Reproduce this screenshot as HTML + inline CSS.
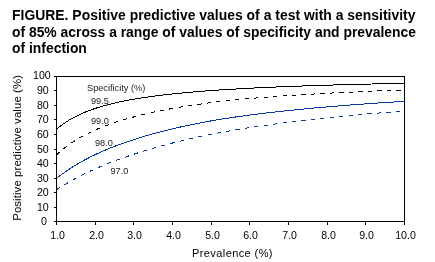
<!DOCTYPE html>
<html><head><meta charset="utf-8"><style>
html,body{margin:0;padding:0;background:#fff;width:435px;height:262px;overflow:hidden}
.t{position:absolute;left:12.4px;font:bold 13.9px/16.5px "Liberation Sans",sans-serif;color:#000;white-space:nowrap;will-change:transform}
svg{position:absolute;left:0;top:0;will-change:transform}
svg text{font-family:"Liberation Sans",sans-serif}
</style></head><body>
<div class="t" style="top:7.2px;letter-spacing:0.02px">FIGURE. Positive predictive values of a test with a sensitivity</div><div class="t" style="top:23.6px;letter-spacing:-0.01px">of 85% across a range of values of specificity and prevalence</div><div class="t" style="top:40px">of infection</div>
<svg width="435" height="262" viewBox="0 0 435 262">
<g fill="none" stroke="#000" stroke-width="1" shape-rendering="crispEdges">
<rect x="56.5" y="76.5" width="348" height="145"/>
<path d="M54 221.5H56M54 207.5H56M54 192.5H56M54 178.5H56M54 163.5H56M54 149.5H56M54 134.5H56M54 119.5H56M54 105.5H56M54 90.5H56M54 76.5H56M56.5 222V225M95.5 222V225M133.5 222V225M172.5 222V225M211.5 222V225M249.5 222V225M288.5 222V225M327.5 222V225M365.5 222V225M404.5 222V225"/>
</g>
<g fill="#000" font-size="10.6"><text x="46.8" y="225.2" text-anchor="end">0</text><text x="48.7" y="211.2" text-anchor="end">10</text><text x="48.7" y="196.2" text-anchor="end">20</text><text x="48.7" y="182.2" text-anchor="end">30</text><text x="48.7" y="167.2" text-anchor="end">40</text><text x="48.7" y="153.2" text-anchor="end">50</text><text x="48.7" y="138.2" text-anchor="end">60</text><text x="48.7" y="123.2" text-anchor="end">70</text><text x="48.7" y="109.2" text-anchor="end">80</text><text x="48.7" y="94.2" text-anchor="end">90</text><text x="50.7" y="78.8" text-anchor="end">100</text><text x="57.5" y="238.5" text-anchor="middle">1.0</text><text x="96.5" y="238.5" text-anchor="middle">2.0</text><text x="134.5" y="238.5" text-anchor="middle">3.0</text><text x="173.5" y="238.5" text-anchor="middle">4.0</text><text x="212.5" y="238.5" text-anchor="middle">5.0</text><text x="250.5" y="238.5" text-anchor="middle">6.0</text><text x="289.5" y="238.5" text-anchor="middle">7.0</text><text x="328.5" y="238.5" text-anchor="middle">8.0</text><text x="366.5" y="238.5" text-anchor="middle">9.0</text><text x="405.5" y="238.5" text-anchor="middle">10.0</text></g>
<g fill="none" stroke-width="1" shape-rendering="crispEdges">
<path d="M56.50 129.36L57.47 128.53L58.43 127.71L59.40 126.92L60.37 126.16L61.33 125.42L62.30 124.69L63.27 123.99L64.23 123.31L65.20 122.65L66.17 122.00L67.13 121.38L68.10 120.77L69.07 120.17L70.03 119.59L71.00 119.03L71.97 118.47L72.93 117.94L73.90 117.41L74.87 116.90L75.83 116.40L76.80 115.92L77.77 115.44L78.73 114.97L79.70 114.52L80.67 114.08L81.63 113.64L82.60 113.22L83.57 112.80L84.53 112.40L85.50 112.00L86.47 111.61L87.43 111.23L88.40 110.85L89.37 110.49L90.33 110.13L91.30 109.78L92.27 109.44L93.23 109.10L94.20 108.77L95.17 108.44L96.13 108.12L97.10 107.81L98.07 107.51L99.03 107.21L100.00 106.91L100.97 106.62L101.93 106.34L102.90 106.06L103.87 105.78L104.83 105.51L105.80 105.25L106.77 104.99L107.73 104.73L108.70 104.48L109.67 104.23L110.63 103.99L111.60 103.75L112.57 103.52L113.53 103.28L114.50 103.06L115.47 102.83L116.43 102.61L117.40 102.40L118.37 102.18L119.33 101.97L120.30 101.77L121.27 101.56L122.23 101.36L123.20 101.16L124.17 100.97L125.13 100.78L126.10 100.59L127.07 100.40L128.03 100.22L129.00 100.04L129.97 99.86L130.93 99.68L131.90 99.51L132.87 99.34L133.83 99.17L134.80 99.01L135.77 98.84L136.73 98.68L137.70 98.52L138.67 98.36L139.63 98.21L140.60 98.05L141.57 97.90L142.53 97.75L143.50 97.61L144.47 97.46L145.43 97.32L146.40 97.18L147.37 97.04L148.33 96.90L149.30 96.76L150.27 96.63L151.23 96.50L152.20 96.36L153.17 96.23L154.13 96.11L155.10 95.98L156.07 95.86L157.03 95.73L158.00 95.61L158.97 95.49L159.93 95.37L160.90 95.25L161.87 95.14L162.83 95.02L163.80 94.91L164.77 94.79L165.73 94.68L166.70 94.57L167.67 94.46L168.63 94.36L169.60 94.25L170.57 94.15L171.53 94.04L172.50 93.94L173.47 93.84L174.43 93.74L175.40 93.64L176.37 93.54L177.33 93.44L178.30 93.34L179.27 93.25L180.23 93.15L181.20 93.06L182.17 92.97L183.13 92.88L184.10 92.79L185.07 92.70L186.03 92.61L187.00 92.52L187.97 92.43L188.93 92.35L189.90 92.26L190.87 92.18L191.83 92.09L192.80 92.01L193.77 91.93L194.73 91.85L195.70 91.77L196.67 91.69L197.63 91.61L198.60 91.53L199.57 91.45L200.53 91.38L201.50 91.30L202.47 91.22L203.43 91.15L204.40 91.08L205.37 91.00L206.33 90.93L207.30 90.86L208.27 90.79L209.23 90.72L210.20 90.65L211.17 90.58L212.13 90.51L213.10 90.44L214.07 90.37L215.03 90.31L216.00 90.24L216.97 90.17L217.93 90.11L218.90 90.04L219.87 89.98L220.83 89.92L221.80 89.85L222.77 89.79L223.73 89.73L224.70 89.67L225.67 89.61L226.63 89.55L227.60 89.49L228.57 89.43L229.53 89.37L230.50 89.31L231.47 89.25L232.43 89.19L233.40 89.14L234.37 89.08L235.33 89.02L236.30 88.97L237.27 88.91L238.23 88.86L239.20 88.81L240.17 88.75L241.13 88.70L242.10 88.64L243.07 88.59L244.03 88.54L245.00 88.49L245.97 88.44L246.93 88.39L247.90 88.34L248.87 88.29L249.83 88.24L250.80 88.19L251.77 88.14L252.73 88.09L253.70 88.04L254.67 87.99L255.63 87.94L256.60 87.90L257.57 87.85L258.53 87.80L259.50 87.76L260.47 87.71L261.43 87.67L262.40 87.62L263.37 87.58L264.33 87.53L265.30 87.49L266.27 87.44L267.23 87.40L268.20 87.36L269.17 87.31L270.13 87.27L271.10 87.23L272.07 87.18L273.03 87.14L274.00 87.10L274.97 87.06L275.93 87.02L276.90 86.98L277.87 86.94L278.83 86.90L279.80 86.86L280.77 86.82L281.73 86.78L282.70 86.74L283.67 86.70L284.63 86.66L285.60 86.62L286.57 86.59L287.53 86.55L288.50 86.51L289.47 86.47L290.43 86.44L291.40 86.40L292.37 86.36L293.33 86.33L294.30 86.29L295.27 86.25L296.23 86.22L297.20 86.18L298.17 86.15L299.13 86.11L300.10 86.08L301.07 86.04L302.03 86.01L303.00 85.98L303.97 85.94L304.93 85.91L305.90 85.87L306.87 85.84L307.83 85.81L308.80 85.78L309.77 85.74L310.73 85.71L311.70 85.68L312.67 85.65L313.63 85.61L314.60 85.58L315.57 85.55L316.53 85.52L317.50 85.49L318.47 85.46L319.43 85.43L320.40 85.40L321.37 85.37L322.33 85.34L323.30 85.31L324.27 85.28L325.23 85.25L326.20 85.22L327.17 85.19L328.13 85.16L329.10 85.13L330.07 85.10L331.03 85.07L332.00 85.04L332.97 85.01L333.93 84.99L334.90 84.96L335.87 84.93L336.83 84.90L337.80 84.88L338.77 84.85L339.73 84.82L340.70 84.79L341.67 84.77L342.63 84.74L343.60 84.71L344.57 84.69L345.53 84.66L346.50 84.63L347.47 84.61L348.43 84.58L349.40 84.56L350.37 84.53L351.33 84.51L352.30 84.48L353.27 84.46L354.23 84.43L355.20 84.41L356.17 84.38L357.13 84.36L358.10 84.33L359.07 84.31L360.03 84.28L361.00 84.26L361.97 84.23L362.93 84.21L363.90 84.19L364.87 84.16L365.83 84.14L366.80 84.12L367.77 84.09L368.73 84.07L369.70 84.05L370.67 84.02L371.63 84.00L372.60 83.98L373.57 83.96L374.53 83.93L375.50 83.91L376.47 83.89L377.43 83.87L378.40 83.85L379.37 83.82L380.33 83.80L381.30 83.78L382.27 83.76L383.23 83.74L384.20 83.72L385.17 83.69L386.13 83.67L387.10 83.65L388.07 83.63L389.03 83.61L390.00 83.59L390.97 83.57L391.93 83.55L392.90 83.53L393.87 83.51L394.83 83.49L395.80 83.47L396.77 83.45L397.73 83.43L398.70 83.41L399.67 83.39L400.63 83.37L401.60 83.35L402.57 83.33L403.53 83.31L404.50 83.29" stroke="#000"/>
<path d="M56.50 155.02L57.47 154.12L58.43 153.24L59.40 152.38L60.37 151.53L61.33 150.71L62.30 149.91L63.27 149.12L64.23 148.34L65.20 147.59L66.17 146.85L67.13 146.12L68.10 145.41L69.07 144.71L70.03 144.03L71.00 143.36L71.97 142.70L72.93 142.06L73.90 141.43L74.87 140.81L75.83 140.20L76.80 139.60L77.77 139.01L78.73 138.44L79.70 137.87L80.67 137.31L81.63 136.77L82.60 136.23L83.57 135.70L84.53 135.19L85.50 134.68L86.47 134.18L87.43 133.68L88.40 133.20L89.37 132.72L90.33 132.25L91.30 131.79L92.27 131.34L93.23 130.89L94.20 130.45L95.17 130.02L96.13 129.60L97.10 129.18L98.07 128.76L99.03 128.36L100.00 127.96L100.97 127.56L101.93 127.18L102.90 126.79L103.87 126.42L104.83 126.04L105.80 125.68L106.77 125.32L107.73 124.96L108.70 124.61L109.67 124.26L110.63 123.92L111.60 123.59L112.57 123.25L113.53 122.93L114.50 122.60L115.47 122.29L116.43 121.97L117.40 121.66L118.37 121.36L119.33 121.05L120.30 120.76L121.27 120.46L122.23 120.17L123.20 119.88L124.17 119.60L125.13 119.32L126.10 119.05L127.07 118.77L128.03 118.50L129.00 118.24L129.97 117.98L130.93 117.71L131.90 117.44L132.87 117.18L133.83 116.91L134.80 116.66L135.77 116.40L136.73 116.15L137.70 115.90L138.67 115.65L139.63 115.41L140.60 115.17L141.57 114.93L142.53 114.69L143.50 114.46L144.47 114.23L145.43 114.00L146.40 113.78L147.37 113.55L148.33 113.33L149.30 113.11L150.27 112.89L151.23 112.68L152.20 112.47L153.17 112.26L154.13 112.05L155.10 111.84L156.07 111.64L157.03 111.44L158.00 111.24L158.97 111.04L159.93 110.84L160.90 110.65L161.87 110.46L162.83 110.26L163.80 110.08L164.77 109.89L165.73 109.70L166.70 109.52L167.67 109.34L168.63 109.16L169.60 108.98L170.57 108.80L171.53 108.63L172.50 108.45L173.47 108.28L174.43 108.11L175.40 107.94L176.37 107.78L177.33 107.61L178.30 107.44L179.27 107.28L180.23 107.12L181.20 106.96L182.17 106.80L183.13 106.64L184.10 106.49L185.07 106.33L186.03 106.18L187.00 106.03L187.97 105.87L188.93 105.72L189.90 105.58L190.87 105.43L191.83 105.28L192.80 105.14L193.77 104.99L194.73 104.85L195.70 104.71L196.67 104.57L197.63 104.43L198.60 104.29L199.57 104.15L200.53 104.02L201.50 103.88L202.47 103.75L203.43 103.62L204.40 103.48L205.37 103.35L206.33 103.22L207.30 103.09L208.27 102.97L209.23 102.84L210.20 102.71L211.17 102.59L212.13 102.46L213.10 102.34L214.07 102.22L215.03 102.10L216.00 101.98L216.97 101.86L217.93 101.74L218.90 101.62L219.87 101.50L220.83 101.40L221.80 101.29L222.77 101.19L223.73 101.08L224.70 100.98L225.67 100.88L226.63 100.78L227.60 100.68L228.57 100.58L229.53 100.48L230.50 100.38L231.47 100.28L232.43 100.19L233.40 100.09L234.37 100.00L235.33 99.90L236.30 99.81L237.27 99.72L238.23 99.62L239.20 99.53L240.17 99.44L241.13 99.35L242.10 99.26L243.07 99.17L244.03 99.08L245.00 99.00L245.97 98.91L246.93 98.82L247.90 98.74L248.87 98.65L249.83 98.57L250.80 98.48L251.77 98.40L252.73 98.32L253.70 98.23L254.67 98.15L255.63 98.07L256.60 97.99L257.57 97.91L258.53 97.83L259.50 97.75L260.47 97.67L261.43 97.59L262.40 97.52L263.37 97.44L264.33 97.36L265.30 97.29L266.27 97.21L267.23 97.14L268.20 97.06L269.17 96.99L270.13 96.91L271.10 96.84L272.07 96.77L273.03 96.70L274.00 96.62L274.97 96.55L275.93 96.48L276.90 96.41L277.87 96.34L278.83 96.27L279.80 96.20L280.77 96.13L281.73 96.07L282.70 96.00L283.67 95.93L284.63 95.86L285.60 95.80L286.57 95.73L287.53 95.67L288.50 95.60L289.47 95.54L290.43 95.47L291.40 95.41L292.37 95.34L293.33 95.28L294.30 95.22L295.27 95.15L296.23 95.09L297.20 95.03L298.17 94.97L299.13 94.91L300.10 94.85L301.07 94.79L302.03 94.73L303.00 94.67L303.97 94.61L304.93 94.55L305.90 94.49L306.87 94.43L307.83 94.37L308.80 94.32L309.77 94.26L310.73 94.20L311.70 94.14L312.67 94.09L313.63 94.03L314.60 93.98L315.57 93.92L316.53 93.87L317.50 93.81L318.47 93.76L319.43 93.70L320.40 93.65L321.37 93.60L322.33 93.54L323.30 93.49L324.27 93.44L325.23 93.38L326.20 93.33L327.17 93.28L328.13 93.23L329.10 93.18L330.07 93.13L331.03 93.08L332.00 93.02L332.97 92.97L333.93 92.92L334.90 92.88L335.87 92.83L336.83 92.78L337.80 92.73L338.77 92.68L339.73 92.63L340.70 92.58L341.67 92.53L342.63 92.49L343.60 92.44L344.57 92.39L345.53 92.35L346.50 92.30L347.47 92.25L348.43 92.21L349.40 92.16L350.37 92.12L351.33 92.07L352.30 92.02L353.27 91.98L354.23 91.93L355.20 91.89L356.17 91.85L357.13 91.80L358.10 91.76L359.07 91.71L360.03 91.67L361.00 91.63L361.97 91.58L362.93 91.54L363.90 91.50L364.87 91.46L365.83 91.41L366.80 91.37L367.77 91.33L368.73 91.29L369.70 91.25L370.67 91.21L371.63 91.17L372.60 91.13L373.57 91.08L374.53 91.04L375.50 91.00L376.47 90.96L377.43 90.92L378.40 90.88L379.37 90.85L380.33 90.81L381.30 90.77L382.27 90.73L383.23 90.69L384.20 90.65L385.17 90.61L386.13 90.57L387.10 90.54L388.07 90.50L389.03 90.46L390.00 90.42L390.97 90.39L391.93 90.35L392.90 90.31L393.87 90.28L394.83 90.24L395.80 90.20L396.77 90.17L397.73 90.13L398.70 90.10L399.67 90.06L400.63 90.02L401.60 89.99L402.57 89.95L403.53 89.92L404.50 89.88" stroke="#000" stroke-dasharray="4.2 5.3"/>
<path d="M56.50 178.45L57.47 177.68L58.43 176.93L59.40 176.19L60.37 175.46L61.33 174.74L62.30 174.03L63.27 173.33L64.23 172.63L65.20 171.95L66.17 171.28L67.13 170.62L68.10 169.96L69.07 169.32L70.03 168.68L71.00 168.05L71.97 167.43L72.93 166.82L73.90 166.21L74.87 165.62L75.83 165.03L76.80 164.45L77.77 163.87L78.73 163.31L79.70 162.75L80.67 162.19L81.63 161.65L82.60 161.11L83.57 160.57L84.53 160.05L85.50 159.53L86.47 159.01L87.43 158.51L88.40 158.00L89.37 157.51L90.33 157.02L91.30 156.53L92.27 156.05L93.23 155.58L94.20 155.11L95.17 154.65L96.13 154.19L97.10 153.74L98.07 153.29L99.03 152.85L100.00 152.41L100.97 151.98L101.93 151.55L102.90 151.13L103.87 150.71L104.83 150.30L105.80 149.89L106.77 149.48L107.73 149.08L108.70 148.68L109.67 148.29L110.63 147.90L111.60 147.52L112.57 147.14L113.53 146.76L114.50 146.39L115.47 146.02L116.43 145.65L117.40 145.29L118.37 144.93L119.33 144.58L120.30 144.23L121.27 143.88L122.23 143.53L123.20 143.19L124.17 142.86L125.13 142.52L126.10 142.19L127.07 141.86L128.03 141.54L129.00 141.21L129.97 140.90L130.93 140.57L131.90 140.25L132.87 139.93L133.83 139.61L134.80 139.29L135.77 138.98L136.73 138.67L137.70 138.36L138.67 138.06L139.63 137.76L140.60 137.46L141.57 137.16L142.53 136.87L143.50 136.58L144.47 136.29L145.43 136.00L146.40 135.72L147.37 135.44L148.33 135.16L149.30 134.88L150.27 134.61L151.23 134.33L152.20 134.06L153.17 133.80L154.13 133.53L155.10 133.27L156.07 133.01L157.03 132.75L158.00 132.49L158.97 132.23L159.93 131.98L160.90 131.73L161.87 131.48L162.83 131.23L163.80 130.99L164.77 130.74L165.73 130.50L166.70 130.26L167.67 130.02L168.63 129.79L169.60 129.55L170.57 129.32L171.53 129.09L172.50 128.86L173.47 128.63L174.43 128.41L175.40 128.18L176.37 127.96L177.33 127.74L178.30 127.52L179.27 127.30L180.23 127.08L181.20 126.87L182.17 126.66L183.13 126.44L184.10 126.23L185.07 126.02L186.03 125.82L187.00 125.61L187.97 125.41L188.93 125.20L189.90 125.00L190.87 124.80L191.83 124.60L192.80 124.41L193.77 124.21L194.73 124.02L195.70 123.82L196.67 123.63L197.63 123.44L198.60 123.25L199.57 123.06L200.53 122.87L201.50 122.69L202.47 122.50L203.43 122.32L204.40 122.14L205.37 121.96L206.33 121.78L207.30 121.60L208.27 121.42L209.23 121.24L210.20 121.07L211.17 120.89L212.13 120.72L213.10 120.55L214.07 120.38L215.03 120.21L216.00 120.04L216.97 119.87L217.93 119.71L218.90 119.54L219.87 119.38L220.83 119.22L221.80 119.07L222.77 118.92L223.73 118.77L224.70 118.62L225.67 118.47L226.63 118.32L227.60 118.18L228.57 118.03L229.53 117.89L230.50 117.74L231.47 117.60L232.43 117.46L233.40 117.32L234.37 117.18L235.33 117.04L236.30 116.90L237.27 116.76L238.23 116.63L239.20 116.49L240.17 116.36L241.13 116.22L242.10 116.09L243.07 115.96L244.03 115.83L245.00 115.70L245.97 115.57L246.93 115.44L247.90 115.31L248.87 115.18L249.83 115.05L250.80 114.93L251.77 114.80L252.73 114.68L253.70 114.55L254.67 114.43L255.63 114.31L256.60 114.19L257.57 114.07L258.53 113.95L259.50 113.83L260.47 113.71L261.43 113.59L262.40 113.47L263.37 113.35L264.33 113.24L265.30 113.12L266.27 113.01L267.23 112.89L268.20 112.78L269.17 112.67L270.13 112.55L271.10 112.44L272.07 112.33L273.03 112.22L274.00 112.11L274.97 112.00L275.93 111.89L276.90 111.78L277.87 111.68L278.83 111.57L279.80 111.46L280.77 111.36L281.73 111.25L282.70 111.15L283.67 111.04L284.63 110.94L285.60 110.84L286.57 110.74L287.53 110.63L288.50 110.53L289.47 110.43L290.43 110.33L291.40 110.23L292.37 110.13L293.33 110.03L294.30 109.94L295.27 109.84L296.23 109.74L297.20 109.64L298.17 109.55L299.13 109.45L300.10 109.36L301.07 109.26L302.03 109.17L303.00 109.08L303.97 108.98L304.93 108.89L305.90 108.80L306.87 108.71L307.83 108.61L308.80 108.52L309.77 108.43L310.73 108.34L311.70 108.25L312.67 108.16L313.63 108.08L314.60 107.99L315.57 107.90L316.53 107.81L317.50 107.73L318.47 107.64L319.43 107.55L320.40 107.47L321.37 107.38L322.33 107.30L323.30 107.21L324.27 107.13L325.23 107.05L326.20 106.96L327.17 106.88L328.13 106.80L329.10 106.72L330.07 106.63L331.03 106.55L332.00 106.47L332.97 106.39L333.93 106.31L334.90 106.23L335.87 106.15L336.83 106.07L337.80 105.99L338.77 105.92L339.73 105.84L340.70 105.76L341.67 105.68L342.63 105.61L343.60 105.53L344.57 105.46L345.53 105.38L346.50 105.30L347.47 105.23L348.43 105.15L349.40 105.08L350.37 105.01L351.33 104.93L352.30 104.86L353.27 104.79L354.23 104.71L355.20 104.64L356.17 104.57L357.13 104.50L358.10 104.43L359.07 104.36L360.03 104.28L361.00 104.21L361.97 104.14L362.93 104.07L363.90 104.00L364.87 103.94L365.83 103.87L366.80 103.80L367.77 103.73L368.73 103.66L369.70 103.59L370.67 103.53L371.63 103.46L372.60 103.39L373.57 103.33L374.53 103.26L375.50 103.19L376.47 103.13L377.43 103.06L378.40 103.00L379.37 102.93L380.33 102.87L381.30 102.80L382.27 102.74L383.23 102.68L384.20 102.61L385.17 102.55L386.13 102.49L387.10 102.42L388.07 102.36L389.03 102.30L390.00 102.24L390.97 102.18L391.93 102.12L392.90 102.05L393.87 101.99L394.83 101.93L395.80 101.87L396.77 101.81L397.73 101.75L398.70 101.69L399.67 101.63L400.63 101.57L401.60 101.52L402.57 101.46L403.53 101.40L404.50 101.34" stroke="#0b389a"/>
<path d="M56.50 189.74L57.47 189.11L58.43 188.48L59.40 187.87L60.37 187.25L61.33 186.65L62.30 186.05L63.27 185.46L64.23 184.88L65.20 184.30L66.17 183.72L67.13 183.16L68.10 182.59L69.07 182.04L70.03 181.49L71.00 180.94L71.97 180.40L72.93 179.87L73.90 179.34L74.87 178.81L75.83 178.29L76.80 177.78L77.77 177.27L78.73 176.77L79.70 176.27L80.67 175.77L81.63 175.28L82.60 174.80L83.57 174.32L84.53 173.84L85.50 173.37L86.47 172.90L87.43 172.44L88.40 171.98L89.37 171.52L90.33 171.07L91.30 170.62L92.27 170.18L93.23 169.74L94.20 169.31L95.17 168.88L96.13 168.45L97.10 168.02L98.07 167.60L99.03 167.19L100.00 166.77L100.97 166.37L101.93 165.96L102.90 165.56L103.87 165.16L104.83 164.76L105.80 164.37L106.77 163.98L107.73 163.60L108.70 163.21L109.67 162.84L110.63 162.46L111.60 162.09L112.57 161.72L113.53 161.35L114.50 160.99L115.47 160.62L116.43 160.27L117.40 159.91L118.37 159.56L119.33 159.21L120.30 158.86L121.27 158.52L122.23 158.18L123.20 157.84L124.17 157.50L125.13 157.17L126.10 156.84L127.07 156.51L128.03 156.18L129.00 155.86L129.97 155.54L130.93 155.21L131.90 154.88L132.87 154.56L133.83 154.24L134.80 153.92L135.77 153.60L136.73 153.29L137.70 152.97L138.67 152.66L139.63 152.35L140.60 152.05L141.57 151.74L142.53 151.44L143.50 151.14L144.47 150.84L145.43 150.55L146.40 150.25L147.37 149.96L148.33 149.67L149.30 149.39L150.27 149.10L151.23 148.82L152.20 148.53L153.17 148.25L154.13 147.98L155.10 147.70L156.07 147.43L157.03 147.15L158.00 146.88L158.97 146.61L159.93 146.35L160.90 146.08L161.87 145.82L162.83 145.55L163.80 145.29L164.77 145.04L165.73 144.78L166.70 144.52L167.67 144.27L168.63 144.02L169.60 143.77L170.57 143.52L171.53 143.27L172.50 143.02L173.47 142.78L174.43 142.54L175.40 142.30L176.37 142.06L177.33 141.82L178.30 141.58L179.27 141.35L180.23 141.11L181.20 140.88L182.17 140.65L183.13 140.42L184.10 140.19L185.07 139.96L186.03 139.74L187.00 139.51L187.97 139.29L188.93 139.07L189.90 138.85L190.87 138.63L191.83 138.41L192.80 138.19L193.77 137.98L194.73 137.76L195.70 137.55L196.67 137.34L197.63 137.13L198.60 136.92L199.57 136.71L200.53 136.50L201.50 136.30L202.47 136.09L203.43 135.89L204.40 135.69L205.37 135.49L206.33 135.29L207.30 135.09L208.27 134.89L209.23 134.69L210.20 134.50L211.17 134.30L212.13 134.11L213.10 133.92L214.07 133.72L215.03 133.53L216.00 133.34L216.97 133.16L217.93 132.97L218.90 132.78L219.87 132.60L220.83 132.42L221.80 132.25L222.77 132.08L223.73 131.91L224.70 131.74L225.67 131.57L226.63 131.40L227.60 131.23L228.57 131.07L229.53 130.90L230.50 130.74L231.47 130.57L232.43 130.41L233.40 130.25L234.37 130.09L235.33 129.93L236.30 129.77L237.27 129.61L238.23 129.45L239.20 129.30L240.17 129.14L241.13 128.99L242.10 128.83L243.07 128.68L244.03 128.53L245.00 128.38L245.97 128.22L246.93 128.07L247.90 127.93L248.87 127.78L249.83 127.63L250.80 127.48L251.77 127.34L252.73 127.19L253.70 127.05L254.67 126.90L255.63 126.76L256.60 126.62L257.57 126.47L258.53 126.33L259.50 126.19L260.47 126.05L261.43 125.91L262.40 125.78L263.37 125.64L264.33 125.50L265.30 125.36L266.27 125.23L267.23 125.09L268.20 124.96L269.17 124.83L270.13 124.69L271.10 124.56L272.07 124.43L273.03 124.30L274.00 124.17L274.97 124.04L275.93 123.91L276.90 123.78L277.87 123.65L278.83 123.53L279.80 123.40L280.77 123.27L281.73 123.15L282.70 123.02L283.67 122.90L284.63 122.78L285.60 122.65L286.57 122.53L287.53 122.41L288.50 122.29L289.47 122.17L290.43 122.05L291.40 121.93L292.37 121.81L293.33 121.69L294.30 121.57L295.27 121.45L296.23 121.34L297.20 121.22L298.17 121.10L299.13 120.99L300.10 120.87L301.07 120.76L302.03 120.65L303.00 120.53L303.97 120.42L304.93 120.31L305.90 120.20L306.87 120.09L307.83 119.98L308.80 119.87L309.77 119.76L310.73 119.65L311.70 119.54L312.67 119.43L313.63 119.32L314.60 119.21L315.57 119.11L316.53 119.00L317.50 118.90L318.47 118.79L319.43 118.69L320.40 118.58L321.37 118.48L322.33 118.37L323.30 118.27L324.27 118.17L325.23 118.07L326.20 117.96L327.17 117.86L328.13 117.76L329.10 117.66L330.07 117.56L331.03 117.46L332.00 117.36L332.97 117.26L333.93 117.16L334.90 117.07L335.87 116.97L336.83 116.87L337.80 116.77L338.77 116.68L339.73 116.58L340.70 116.49L341.67 116.39L342.63 116.30L343.60 116.20L344.57 116.11L345.53 116.02L346.50 115.92L347.47 115.83L348.43 115.74L349.40 115.64L350.37 115.55L351.33 115.46L352.30 115.37L353.27 115.28L354.23 115.19L355.20 115.10L356.17 115.01L357.13 114.92L358.10 114.83L359.07 114.74L360.03 114.66L361.00 114.57L361.97 114.48L362.93 114.39L363.90 114.31L364.87 114.22L365.83 114.14L366.80 114.05L367.77 113.96L368.73 113.88L369.70 113.80L370.67 113.71L371.63 113.63L372.60 113.54L373.57 113.46L374.53 113.38L375.50 113.29L376.47 113.21L377.43 113.13L378.40 113.05L379.37 112.97L380.33 112.89L381.30 112.81L382.27 112.72L383.23 112.64L384.20 112.56L385.17 112.49L386.13 112.41L387.10 112.33L388.07 112.25L389.03 112.17L390.00 112.09L390.97 112.01L391.93 111.94L392.90 111.86L393.87 111.78L394.83 111.71L395.80 111.63L396.77 111.55L397.73 111.48L398.70 111.40L399.67 111.33L400.63 111.25L401.60 111.18L402.57 111.10L403.53 111.03L404.50 110.96" stroke="#0b389a" stroke-dasharray="4.2 5.3"/>
</g>
<g font-size="9.2" fill="#222">
<text x="87" y="91">Specificity (%)</text>
<text x="91" y="104">99.5</text>
<text x="91" y="124">99.0</text>
<text x="95" y="146">98.0</text>
<text x="110.5" y="174">97.0</text>
</g>
<text x="192" y="256.5" font-size="11" textLength="80.5" lengthAdjust="spacing" fill="#000">Prevalence (%)</text>
<text transform="translate(20.8 220.8) rotate(-90)" font-size="11.4" textLength="145.8" lengthAdjust="spacing" fill="#000">Positive predictive value (%)</text>
</svg>
</body></html>
